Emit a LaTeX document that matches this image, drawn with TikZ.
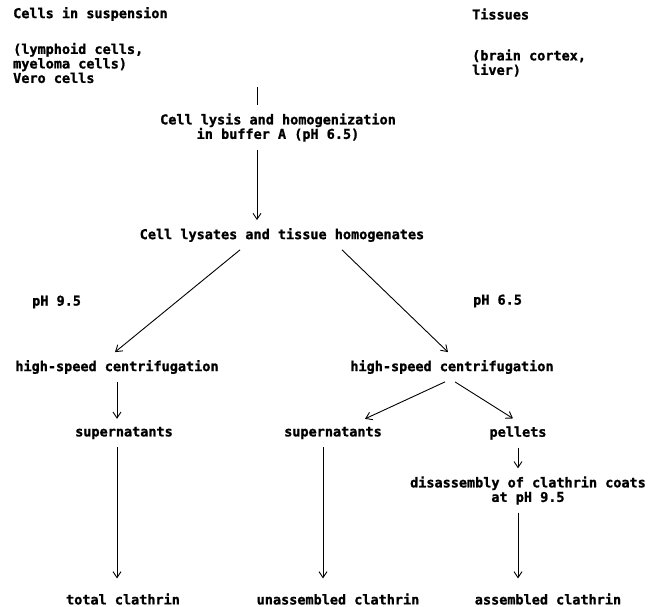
\documentclass[tikz,border=0pt]{standalone}
\usepackage{fontspec}
\newfontfamily\typewriter{DejaVu Sans Mono}[FakeBold=1.3]
\usetikzlibrary{arrows.meta}
\tikzset{
  lbl/.style={inner sep=0pt,align=left,font=\typewriter\bfseries\fontsize{13.5}{14.5}\selectfont},
  stage/.style={inner sep=0pt,outer sep=8pt,align=center,font=\typewriter\bfseries\fontsize{13.5}{14.5}\selectfont},
  flow/.style={-{Straight Barb[length=6pt,width=8pt]},draw=black,line width=0.9pt},
  bar/.style={draw=black,line width=0.9pt}}

\begin{document}
\begin{tikzpicture}[x=1pt,y=-1pt]
  \useasboundingbox (0,0) rectangle (662,607);
  % starting material
  \node[lbl,anchor=west] (susp) at (13,14) {Cells in suspension};
  \node[lbl,anchor=west] (cells) at (13,63) {(lymphoid cells,\\myeloma cells)\\Vero cells};
  \node[lbl,anchor=west] (tiss) at (472,14) {Tissues};
  \node[lbl,anchor=west] (organs) at (472,63) {(brain cortex,\\liver)};
  \coordinate (feed) at (257,87);
  \coordinate (colL) at (117,0);
  \coordinate (colM) at (323,0);
  \coordinate (colR) at (518,0);
  % preparation
  \node[stage] (lysis) at (278,127.5) {Cell lysis and homogenization\\in buffer A (pH 6.5)};
  \node[stage] (lysates) at (282,235) {Cell lysates and tissue homogenates};
  \node[lbl,anchor=west] (ph95) at (32,302) {pH 9.5};
  \node[lbl,anchor=west] (ph65) at (473,301) {pH 6.5};
  \node[stage] (spinL) at (117,367) {high-speed centrifugation};
  \node[stage] (spinR) at (452,367) {high-speed centrifugation};
  \node[stage] (supL) at (124,433) {supernatants};
  \node[stage] (supM) at (333,433) {supernatants};
  \node[stage] (pel) at (518,433) {pellets};
  \node[stage] (coats) at (528,490.5) {disassembly of clathrin coats\\at pH 9.5};
  % fractions
  \node[stage] (total) at (123,599) {total clathrin};
  \node[stage] (unass) at (338,599) {unassembled clathrin};
  \node[stage] (assem) at (548,599) {assembled clathrin};
  \draw[bar] (feed) -- (feed |- lysis.north);
  \draw[flow] (feed |- lysis.south) -- (feed |- lysates.north);
  \draw[flow] ([xshift=-42pt]lysates.south) -- ([xshift=-2pt]spinL.north);
  \draw[flow] ([xshift=60pt]lysates.south) -- ([xshift=-4pt]spinR.north);
  \draw[flow] (colL |- spinL.south) -- (colL |- supL.north);
  \draw[flow] ([xshift=-7pt]spinR.south) -- ([xshift=32pt]supM.north);
  \draw[flow] ([xshift=3pt]spinR.south) -- ([xshift=-5pt]pel.north);
  \draw[flow] (colR |- pel.south) -- (colR |- coats.north);
  \draw[flow,shorten >=7pt] (colL |- supL.south) -- (colL |- total.north);
  \draw[flow,shorten >=7pt] (colM |- supM.south) -- (colM |- unass.north);
  \draw[flow,shorten >=7pt] (colR |- coats.south) -- (colR |- assem.north);
\end{tikzpicture}
\end{document}
